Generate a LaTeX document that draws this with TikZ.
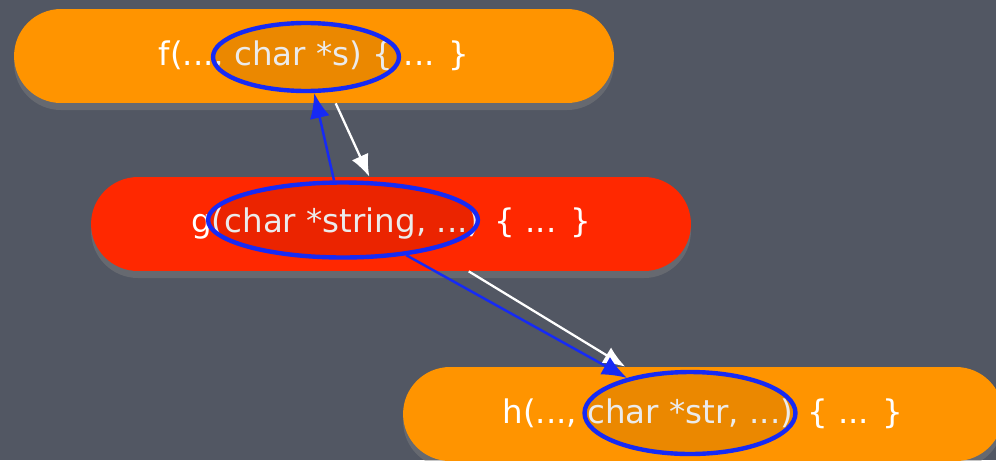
\documentclass[tikz,border=0pt]{standalone}
\usepackage{fontspec}
\setsansfont{DejaVu Sans}
\usepackage{tikz}
\usetikzlibrary{positioning}
\usetikzlibrary{shapes.geometric,shadows}
\usetikzlibrary{arrows.meta}
\definecolor{slate}{RGB}{82,87,99}
\definecolor{pillorange}{RGB}{255,148,0}
\definecolor{pillred}{RGB}{255,40,0}
\definecolor{markblue}{RGB}{22,42,245}
\tikzset{
  pill/.style={rectangle, rounded corners=0.94cm, minimum width=12cm,
    minimum height=1.88cm, text=white,
    font=\sffamily\fontsize{18.5}{22}\selectfont,
    drop shadow={shadow xshift=0pt, shadow yshift=-4pt, opacity=0.45}},
  ring/.style={ellipse, draw=markblue, line width=2.5pt, inner sep=0pt,
    fill=black, fill opacity=0.08, draw opacity=1},
  callarr/.style={draw=white, line width=1.3pt,
    -{Latex[length=0.44cm, width=0.36cm, fill=white]}},
  passarr/.style={draw=markblue, line width=1.4pt,
    -{Latex[length=0.5cm, width=0.4cm]}},
}

\begin{document}
\begin{tikzpicture}[x=0.02cm, y=-0.02cm]
        % 1. Slate background, clipped to the frame
        \useasboundingbox (0,0) rectangle (996,460);
        \clip (0,0) rectangle (996,460);
        \fill[slate] (0,0) rectangle (996,460);

        % 2. The three functions
        \node[pill, fill=pillorange] (f) at (314,56) {f(..., char *s) \{ ... \}};
        \node[pill, fill=pillred] (g) at (391,224) {g(char *string, ...) \{ ... \}};
        \node[pill, fill=pillorange] (h) at (703,414) {h(..., char *str, ...) \{ ... \}};

        % 3. Rings round the string parameters
        \node[ring, minimum width=3.72cm, minimum height=1.36cm] (fS) at (306,57) {};
        \node[ring, minimum width=5.4cm, minimum height=1.5cm] (gS) at (343,220) {};
        \node[ring, minimum width=4.22cm, minimum height=1.64cm] (hS) at (690,413) {};

        % 4. Calls (white)
        \draw[callarr] (f) -- (g);
        \draw[callarr] (g) -- (h);

        % 5. Where the string goes (blue)
        \draw[passarr] (gS) -- (fS);
        \draw[passarr] (gS) -- (hS);
    \end{tikzpicture}
\end{document}
